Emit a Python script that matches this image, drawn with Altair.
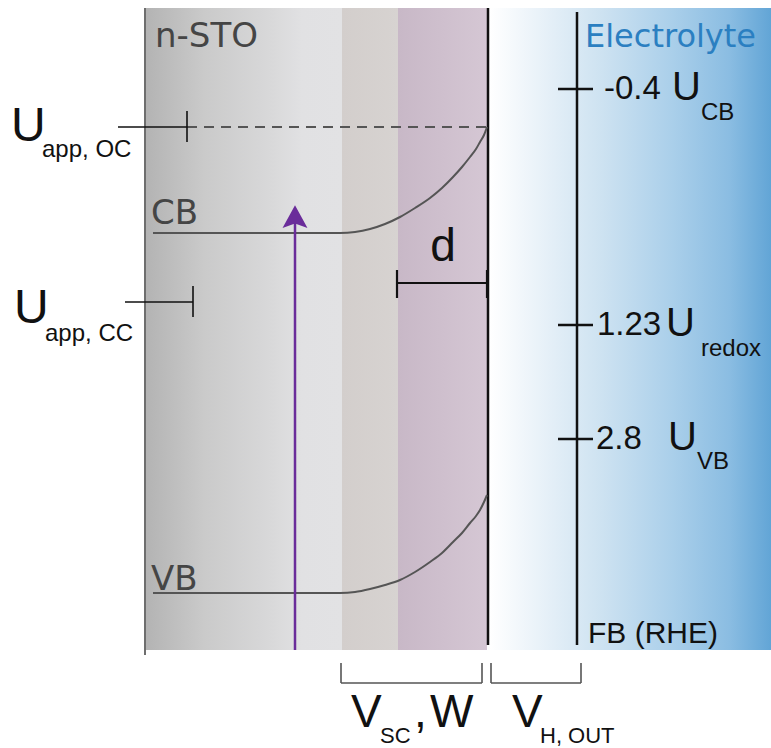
import altair as alt
import pandas as pd

W, H = 771, 748

# ---- layout of the energy diagram (diagram units = pixels, y downwards) ----
panel_top, panel_bottom = 8, 650

# semiconductor / electrolyte zones: left edge, right edge, gradient stops
zone_left = [145, 342, 398, 490]
zone_right = [342, 398, 487, 771]
zone_stops = [
    [(0.0, "#b3b3b3"), (0.3, "#cacaca"), (0.65, "#d9d9da"), (0.8, "#e1e1e3"), (1.0, "#e2e2e4")],
    [(0.0, "#d3cecc"), (1.0, "#d7d3d1")],
    [(0.0, "#c8b8c7"), (1.0, "#d5c7d4")],
    [(0.0, "#ffffff"), (0.2, "#e6f0f8"), (0.4, "#cde2f1"), (0.65, "#aacfea"), (0.85, "#8bbde2"), (1.0, "#62a5d6")],
]

# band edges (conduction band and valence band bending towards the surface)
cb_x = [153, 340, 355, 370, 385, 400, 415, 430, 442, 453, 462, 470, 476, 480, 484, 487]
cb_y = [233, 233, 232, 229, 224, 217, 208, 198, 188, 177, 167, 157, 149, 142, 135, 127]
vb_x = [153, 340, 355, 370, 385, 400, 415, 430, 442, 453, 462, 470, 476, 480, 484, 487]
vb_y = [593, 593, 592, 589, 585, 580, 572, 562, 553, 542, 533, 523, 516, 510, 502, 495]

# potential scale in the electrolyte (RHE)
scale_x = 577
scale_values = ["-0.4", "1.23", "2.8"]
scale_levels = [89, 325, 439]
scale_names = ["CB", "redox", "VB"]

# applied potential markers
uapp_names = ["app, OC", "app, CC"]
uapp_levels = [127, 302]
uapp_starts = [118, 125]
uapp_ends = [187, 193]

# light excitation arrow
photon_x, photon_from, photon_to = 295, 650, 205
purple = "#6a2c9a"

xs = alt.Scale(domain=[0, W], range=[0, W], nice=False, zero=False)
ys = alt.Scale(domain=[0, H], range=[0, H], nice=False, zero=False)


def X(f="x"):
    return alt.X(f"{f}:Q", scale=xs, axis=None)


def Y(f="y"):
    return alt.Y(f"{f}:Q", scale=ys, axis=None)


def gradient(stops):
    return alt.Gradient(
        gradient="linear",
        stops=[alt.GradientStop(offset=o, color=c) for o, c in stops],
        x1=0, y1=0, x2=1, y2=0,
    )


def rect_layer(x0, x1, y0, y1, stops):
    df = pd.DataFrame({"x": [x0], "x2": [x1], "y": [y0], "y2": [y1]})
    return alt.Chart(df).mark_rect(fill=gradient(stops)).encode(
        x=X(), x2="x2", y=Y(), y2="y2"
    )


def seg_layer(rows, color, width, dash=None):
    df = pd.DataFrame(rows, columns=["x", "y", "x2", "y2"])
    kw = dict(color=color, strokeWidth=width)
    if dash:
        kw["strokeDash"] = dash
    return alt.Chart(df).mark_rule(**kw).encode(x=X(), x2="x2", y=Y(), y2="y2")


def curve_layer(xv, yv, color, width):
    df = pd.DataFrame({"x": xv, "y": yv, "o": list(range(len(xv)))})
    return alt.Chart(df).mark_line(color=color, strokeWidth=width, interpolate="monotone").encode(
        x=X(), y=Y(), order="o:Q"
    )


def text_layer(rows, font, size, color, align="left"):
    df = pd.DataFrame(rows, columns=["t", "x", "y"])
    return alt.Chart(df).mark_text(
        font=font, fontSize=size, color=color, align=align, baseline="alphabetic"
    ).encode(x=X(), y=Y(), text="t:N")


narrow = "Liberation Sans"
wide = "DejaVu Sans"
ink = "#111111"

layers = []

# shaded zones
for x0, x1, st in zip(zone_left, zone_right, zone_stops):
    layers.append(rect_layer(x0, x1, panel_top, panel_bottom, st))

# outer edge of the semiconductor and the interface
layers.append(seg_layer([(145, panel_top, 145, 655)], "#6e6e6e", 2))
layers.append(seg_layer([(488, panel_top, 488, 645)], ink, 2.5))

# band edges
layers.append(curve_layer(cb_x, cb_y, "#555555", 2))
layers.append(curve_layer(vb_x, vb_y, "#555555", 2))

# open-circuit Fermi level (dashed) and applied-potential markers
layers.append(seg_layer([(187, uapp_levels[0], 487, uapp_levels[0])], "#555555", 2, [10, 7]))
mk = []
for lvl, start, end in zip(uapp_levels, uapp_starts, uapp_ends):
    mk.append((start, lvl, end, lvl))
    mk.append((end, lvl - 16, end, lvl + 15))
layers.append(seg_layer(mk, ink, 1.6))

# depletion width d
layers.append(seg_layer([(397, 283, 487, 283), (397, 270, 397, 298), (487, 270, 487, 298)], ink, 2.2))

# RHE potential scale
sc = [(scale_x, 12, scale_x, 645)]
for lvl in scale_levels:
    sc.append((558, lvl, 593, lvl))
layers.append(seg_layer(sc, ink, 2.5))

# brackets below the panel
layers.append(seg_layer([
    (341, 683, 482, 683), (341, 663, 341, 683), (482, 663, 482, 683),
    (491, 683, 581, 683), (491, 663, 491, 683), (581, 663, 581, 683),
], "#555555", 1.6))

# photon excitation arrow
layers.append(seg_layer([(photon_x, photon_from, photon_x, photon_to + 14)], purple, 2.5))
head = pd.DataFrame({"x": [photon_x], "y": [photon_to + 21]})
layers.append(alt.Chart(head).mark_point(
    shape="M0,-1L-0.6,0.1L0,-0.12L0.6,0.1Z", filled=True, color=purple, opacity=1, size=1730
).encode(x=X(), y=Y()))

# labels inside the panel
layers.append(text_layer([("n-STO", 155, 47), ("CB", 151, 224), ("VB", 151, 590)], wide, 34, "#454545"))
layers.append(text_layer([("Electrolyte", 585, 47)], wide, 32, "#2b7fc1"))

# applied potentials
layers.append(text_layer([("U", 11, 141), ("U", 14, 323)], narrow, 48, ink))
layers.append(text_layer([(uapp_names[0], 42, 157), (uapp_names[1], 45, 341)], narrow, 24, ink))

# scale annotations
val_x = [604, 597, 596]
u_x = [672, 666, 668]
sub_x = [701, 701, 697]
sub_dy = [31, 31, 30]
val_rows, u_rows, sub_rows = [], [], []
for v, lvl, nm, vx, ux, sx, dy in zip(scale_values, scale_levels, scale_names, val_x, u_x, sub_x, sub_dy):
    val_rows.append((v, vx, lvl + 10))
    u_rows.append(("U", ux, lvl + 11))
    sub_rows.append((nm, sx, lvl + dy))
layers.append(text_layer(val_rows, narrow, 33, ink))
layers.append(text_layer(u_rows, narrow, 40, ink))
layers.append(text_layer(sub_rows, narrow, 24, ink))
layers.append(text_layer([("FB (RHE)", 588, 643)], narrow, 30, ink))
layers.append(text_layer([("d", 443, 261)], narrow, 46, ink, align="center"))

# bracket labels
layers.append(text_layer([("V", 351, 727), (",", 414, 727), ("W", 430, 727), ("V", 512, 727)], narrow, 46, ink))
layers.append(text_layer([("SC", 380, 743), ("H, OUT", 540, 743)], narrow, 22, ink))

chart = alt.layer(*layers).properties(
    width=W, height=H, padding=0, autosize="none", background="white"
).configure_view(stroke=None)

chart.save("out.html", embed_options={"renderer": "svg", "actions": False})
